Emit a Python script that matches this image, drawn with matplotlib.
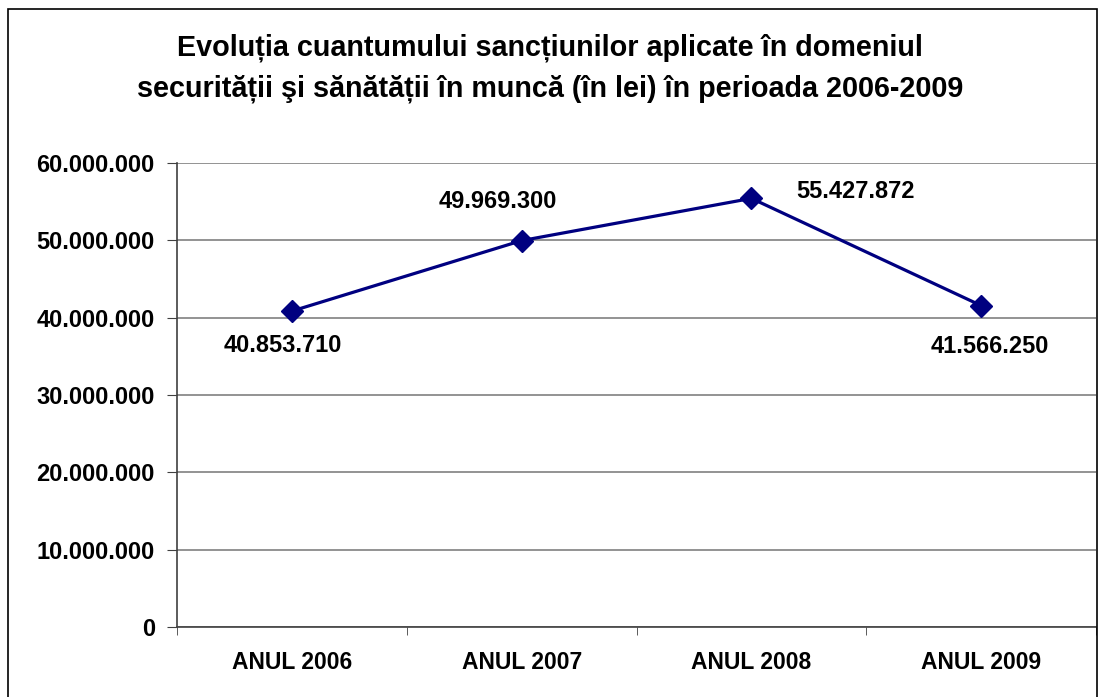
import matplotlib.pyplot as plt
from matplotlib.patches import Rectangle
from matplotlib.ticker import FuncFormatter, FixedLocator

# data
categories = ["ANUL 2006", "ANUL 2007", "ANUL 2008", "ANUL 2009"]
values = [40853710, 49969300, 55427872, 41566250]
y_ticks = [0, 10000000, 20000000, 30000000, 40000000, 50000000, 60000000]
title = ("Evoluția cuantumului sancțiunilor aplicate în domeniul\n"
         "securității şi sănătății în muncă (în lei) în perioada 2006-2009")

plt.rcParams['font.family'] = ['Liberation Sans', 'DejaVu Sans']


def fmt(v, pos=None):
    return "{:,}".format(int(v)).replace(",", ".")


fig = plt.figure(figsize=(11, 6.97), dpi=100)
ax = fig.add_axes([0.1609, 0.1004, 0.8355, 0.6657])

x = list(range(len(categories)))
ax.plot(x, values, color="#000080", linewidth=2.3, marker="D",
        markersize=11, zorder=3)

# data labels (offsets in points)
offsets = [(-6.5, -25), (-17, 28), (75, 5), (6.5, -29.5)]
for xi, v, (dx, dy) in zip(x, values, offsets):
    ax.annotate(fmt(v), (xi, v), xytext=(dx, dy), textcoords="offset points",
                ha="center", va="center", fontsize=17, fontweight="bold")

ax.set_xlim(-0.5, 3.5)
ax.set_ylim(0, 60000000)
ax.set_yticks(y_ticks)
ax.yaxis.set_major_formatter(FuncFormatter(fmt))
ax.set_xticks(x)
ax.set_xticklabels(categories)
ax.xaxis.set_minor_locator(FixedLocator([-0.5, 0.5, 1.5, 2.5, 3.5]))
ax.tick_params(axis="x", which="major", length=0, pad=17)
ax.tick_params(axis="x", which="minor", length=6, direction="out", color="#404040")
ax.tick_params(axis="y", length=7, color="#404040", pad=9)
for lab in ax.get_yticklabels():
    lab.set_fontsize(17)
    lab.set_fontweight("bold")
for lab in ax.get_xticklabels():
    lab.set_fontsize(16.5)
    lab.set_fontweight("bold")

ax.grid(axis="y", color="#808080", linewidth=1.2)
ax.set_axisbelow(True)
for side in ["top", "right"]:
    ax.spines[side].set_visible(False)
ax.spines["left"].set_color("#404040")
ax.spines["bottom"].set_color("#404040")
ax.spines["left"].set_linewidth(1.2)
ax.spines["bottom"].set_linewidth(1.2)

fig.text(0.5, 0.902, title, ha="center", va="center", fontsize=20.7,
         fontweight="bold", linespacing=1.55)

# chart border
fig.add_artist(Rectangle((0.0073, -0.01), 0.99, 0.997, transform=fig.transFigure,
                         fill=False, edgecolor="black", linewidth=1.2))

fig.savefig("out.png", dpi=100)
